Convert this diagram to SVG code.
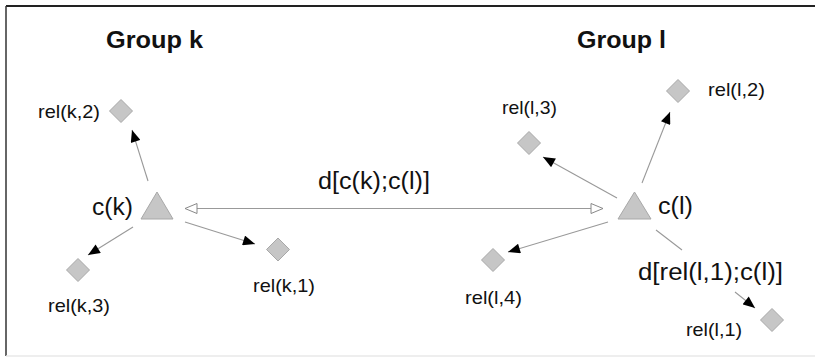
<svg xmlns="http://www.w3.org/2000/svg" width="815" height="361" viewBox="0 0 815 361">
<style>
text{font-family:"Liberation Sans",Arial,sans-serif;fill:#111}
.t{font-size:23px}
.s{font-size:18.5px}
.g{font-size:23px;font-weight:bold}
.dia{fill:#c6c6c6;stroke:#a8a8a8;stroke-width:1}
.tri{fill:#c6c6c6;stroke:#a8a8a8;stroke-width:1}
.ln{stroke:#999;stroke-width:1.1;fill:none}
</style>
<defs>
<marker id="ah" viewBox="0 0 12 10" refX="12" refY="5" markerWidth="13" markerHeight="10" orient="auto" markerUnits="userSpaceOnUse"><path d="M0,0 L12,5 L0,10 z" fill="#000"/></marker>
<marker id="oh" viewBox="0 0 14 12" refX="13" refY="6" markerWidth="14" markerHeight="12" orient="auto-start-reverse" markerUnits="userSpaceOnUse"><path d="M1,1 L13,6 L1,11 z" fill="#fff" stroke="#888" stroke-width="1"/></marker>
</defs>
<rect width="815" height="361" fill="#fff"/>
<g id="frame">
<path d="M6,6 H815" stroke="#222" stroke-width="2"/>
<path d="M6,6 V356" stroke="#333" stroke-width="1.5"/>
<path d="M6,356 H815" stroke="#e8e8e8" stroke-width="1.5"/>
</g>
<g id="titles">
<text class="g" x="106" y="48" textLength="97" lengthAdjust="spacingAndGlyphs">Group k</text>
<text class="g" x="577" y="48" textLength="89" lengthAdjust="spacingAndGlyphs">Group l</text>
</g>
<g id="connectors">
<path class="ln" d="M148,181 L132,130" marker-end="url(#ah)"/>
<path class="ln" d="M133,227 L88,255" marker-end="url(#ah)"/>
<path class="ln" d="M185,222 L255,244" marker-end="url(#ah)"/>
<path class="ln" d="M185,208.5 L603,208.5" stroke="#888" marker-start="url(#oh)" marker-end="url(#oh)"/>
<path class="ln" d="M617,198 L543,157" marker-end="url(#ah)"/>
<path class="ln" d="M642,183 L670,112" marker-end="url(#ah)"/>
<path class="ln" d="M608,222 L508,252" marker-end="url(#ah)"/>
<path class="ln" d="M656,230 L682,250 M735,292 L755,308" marker-end="url(#ah)"/>
<text class="t" x="318" y="188.5" textLength="112" lengthAdjust="spacingAndGlyphs">d[c(k);c(l)]</text>
<text class="t" x="638" y="280" textLength="145" lengthAdjust="spacingAndGlyphs">d[rel(l,1);c(l)]</text>
</g>
<g id="ck">
<polygon class="tri" points="157,192 141,219 173,219"/>
<text class="t" x="92" y="215" textLength="41" lengthAdjust="spacingAndGlyphs">c(k)</text>
</g>
<g id="relk1">
<polygon class="dia" points="278,238 289.5,249.5 278,261 266.5,249.5"/>
<text class="s" x="253" y="292" textLength="62" lengthAdjust="spacingAndGlyphs">rel(k,1)</text>
</g>
<g id="relk2">
<polygon class="dia" points="121,99.5 132.5,111 121,122.5 109.5,111"/>
<text class="s" x="38" y="118" textLength="62" lengthAdjust="spacingAndGlyphs">rel(k,2)</text>
</g>
<g id="relk3">
<polygon class="dia" points="78,258.5 89.5,270 78,281.5 66.5,270"/>
<text class="s" x="48" y="312" textLength="62" lengthAdjust="spacingAndGlyphs">rel(k,3)</text>
</g>
<g id="cl">
<polygon class="tri" points="634.5,192 618,219 651,219"/>
<text class="t" x="658" y="213.5" textLength="35" lengthAdjust="spacingAndGlyphs">c(l)</text>
</g>
<g id="rell1">
<polygon class="dia" points="772,308.5 783.5,320 772,331.5 760.5,320"/>
<text class="s" x="686" y="336" textLength="56" lengthAdjust="spacingAndGlyphs">rel(l,1)</text>
</g>
<g id="rell2">
<polygon class="dia" points="678,79.5 689.5,91 678,102.5 666.5,91"/>
<text class="s" x="708" y="96" textLength="57" lengthAdjust="spacingAndGlyphs">rel(l,2)</text>
</g>
<g id="rell3">
<polygon class="dia" points="529,131.5 540.5,143 529,154.5 517.5,143"/>
<text class="s" x="502" y="114" textLength="55" lengthAdjust="spacingAndGlyphs">rel(l,3)</text>
</g>
<g id="rell4">
<polygon class="dia" points="493,248.5 504.5,260 493,271.5 481.5,260"/>
<text class="s" x="465" y="304" textLength="57" lengthAdjust="spacingAndGlyphs">rel(l,4)</text>
</g>
</svg>
